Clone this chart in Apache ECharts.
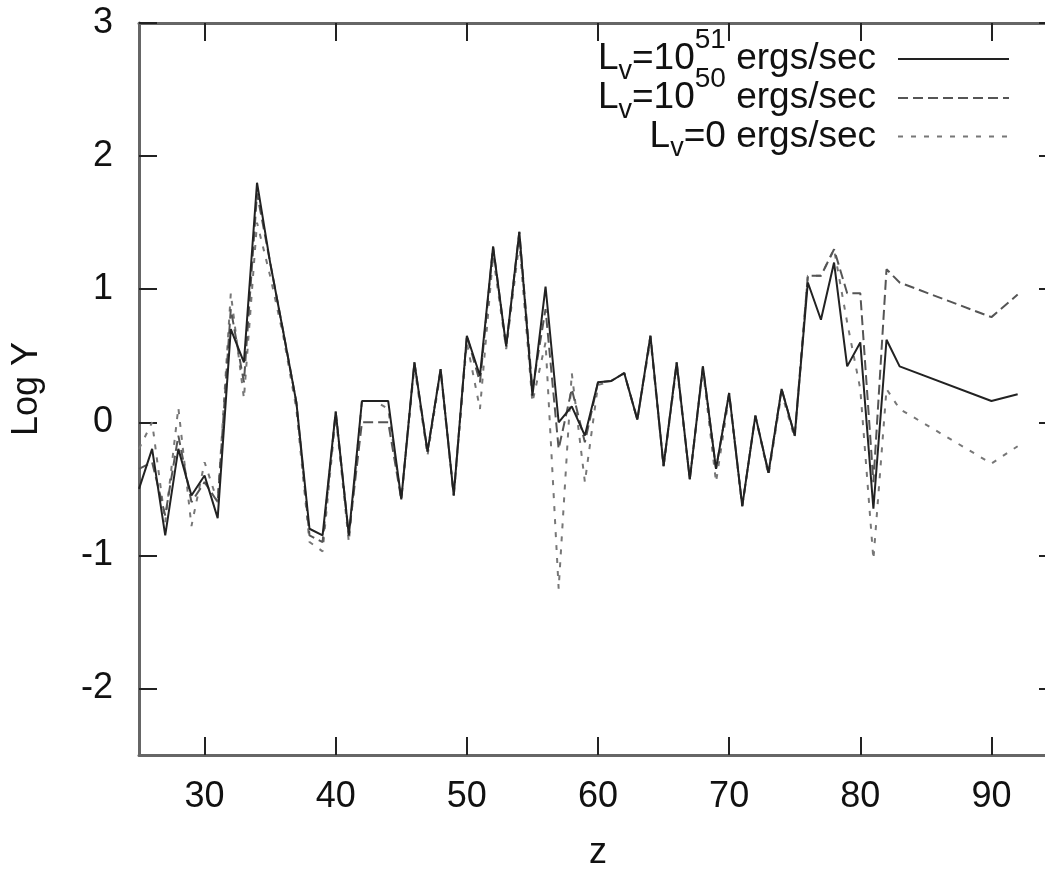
<!DOCTYPE html>
<html>
<head>
<meta charset="utf-8">
<script src="https://cdn.jsdelivr.net/npm/echarts@6/dist/echarts.min.js"></script>
<style>html,body{margin:0;padding:0;background:#fff}#c{width:1045px;height:869px}</style>
</head>
<body>
<div id="c"></div>
<script>
// z values (x axis)
const zValues = [25,26,27,28,29,30,31,32,33,34,35,36,37,38,39,40,41,42,43,44,45,46,47,48,49,50,51,52,53,54,55,56,57,58,59,60,61,62,63,64,65,66,67,68,69,70,71,72,73,74,75,76,77,78,79,80,81,82,83,90,92];
// Log Y, L_v = 10^51 ergs/sec (solid)
const logY51 = [-0.5,-0.2,-0.85,-0.2,-0.55,-0.4,-0.72,0.7,0.45,1.8,1.2,0.68,0.15,-0.8,-0.85,0.08,-0.85,0.16,0.16,0.16,-0.58,0.45,-0.22,0.4,-0.55,0.65,0.35,1.32,0.57,1.43,0.2,1.02,0.0,0.12,-0.1,0.3,0.31,0.37,0.02,0.65,-0.33,0.45,-0.43,0.42,-0.35,0.22,-0.63,0.05,-0.38,0.25,-0.1,1.05,0.77,1.2,0.42,0.6,-0.65,0.62,0.42,0.16,0.21];
// Log Y, L_v = 10^50 ergs/sec (dashed)
const logY50 = [-0.35,-0.3,-0.7,-0.1,-0.6,-0.45,-0.6,0.85,0.3,1.72,1.2,0.68,0.15,-0.85,-0.9,0.08,-0.85,0.0,0.0,0.0,-0.58,0.45,-0.22,0.4,-0.55,0.65,0.3,1.32,0.57,1.43,0.25,0.85,-0.2,0.25,-0.15,0.3,0.31,0.37,0.02,0.65,-0.33,0.45,-0.43,0.42,-0.35,0.22,-0.63,0.05,-0.38,0.25,-0.1,1.1,1.1,1.3,0.97,0.97,-0.45,1.15,1.05,0.79,0.96];
// Log Y, L_v = 0 ergs/sec (dotted)
const logY0 = [-0.2,0.0,-0.75,0.11,-0.78,-0.3,-0.6,0.97,0.18,1.5,1.1,0.65,0.1,-0.9,-0.97,0.05,-0.9,0.16,0.16,0.1,-0.58,0.42,-0.25,0.38,-0.55,0.6,0.1,1.25,0.55,1.35,0.15,0.6,-1.25,0.37,-0.45,0.28,0.31,0.37,0.02,0.62,-0.33,0.42,-0.43,0.4,-0.45,0.2,-0.63,0.05,-0.4,0.22,-0.12,1.1,1.1,1.3,0.75,0.25,-1.03,0.25,0.1,-0.31,-0.18];

const xTicks = [30,40,50,60,70,80,90];
const yTicks = [-2,-1,0,1,2,3];
const legendLabels = {
  'L51': '{m|L}{sub|v}{m|=10}{sup|51}{m| ergs/sec}{gap| }',
  'L50': '{m|L}{sub|v}{m|=10}{sup|50}{m| ergs/sec}{gap| }',
  'L0':  '{m|L}{sub|v}{m|=0 ergs/sec}{gap| }'
};

const FONT = "'Liberation Sans', Arial, Helvetica, sans-serif";
const axisLineStyle = {color:'#666', width:3};
const tickStyle = {color:'#222', width:2};

function pair(xs, ys){ return xs.map((x,i)=>[x, ys[i]]); }

const rich = {
  m:{fontSize:37, fontFamily:FONT, color:'#111'},
  sup:{fontSize:28, fontFamily:FONT, color:'#111', padding:[0,0,38,0]},
  sub:{fontSize:27, fontFamily:FONT, color:'#111', padding:[25,0,0,0]},
  gap:{width:17, fontSize:10}
};
function mkLegend(name, top){
  return {
    data:[name], right:35, top:top, orient:'horizontal', align:'right', padding:0,
    itemWidth:111, itemHeight:14, selectedMode:false,
    itemStyle:{opacity:0},
    formatter:n=>legendLabels[n],
    textStyle:{rich:rich, fontFamily:FONT}
  };
}

const chart = echarts.init(document.getElementById('c'), null, {renderer:'canvas'});
chart.setOption({
  animation:false,
  backgroundColor:'#fff',
  grid:{left:139, top:23, width:918, height:732, containLabel:false, outerBoundsMode:'none'},
  legend:[mkLegend('L51',26), mkLegend('L50',65), mkLegend('L0',118)],
  xAxis:[
    {type:'value', position:'bottom', min:25, max:95,
     axisLine:{show:true, onZero:false, lineStyle:axisLineStyle},
     axisTick:{show:true, inside:true, length:18, customValues:xTicks, lineStyle:tickStyle},
     axisLabel:{show:true, customValues:xTicks, fontSize:36, fontFamily:FONT, color:'#111', margin:24},
     splitLine:{show:false},
     name:'z', nameLocation:'middle', nameGap:80,
     nameTextStyle:{fontSize:36, fontFamily:FONT, color:'#111'}},
    {type:'value', position:'top', min:25, max:95,
     axisLine:{show:true, onZero:false, lineStyle:axisLineStyle},
     axisTick:{show:true, inside:true, length:18, customValues:xTicks, lineStyle:tickStyle},
     axisLabel:{show:false}, splitLine:{show:false}}
  ],
  yAxis:[
    {type:'value', position:'left', min:-2.5, max:3,
     axisLine:{show:true, onZero:false, lineStyle:axisLineStyle},
     axisTick:{show:true, inside:true, length:18, customValues:yTicks, lineStyle:tickStyle},
     axisLabel:{show:true, customValues:yTicks, fontSize:36, fontFamily:FONT, color:'#111', margin:26,
                formatter:v=>String(v)},
     splitLine:{show:false},
     name:'Log Y', nameLocation:'middle', nameGap:94, nameRotate:90,
     nameTextStyle:{fontSize:36, fontFamily:FONT, color:'#111'}},
    {type:'value', position:'right', min:-2.5, max:3,
     axisLine:{show:true, onZero:false, lineStyle:axisLineStyle},
     axisTick:{show:true, inside:true, length:18, customValues:yTicks, lineStyle:tickStyle},
     axisLabel:{show:false}, splitLine:{show:false}}
  ],
  series:[
    {name:'L0', type:'line', data:pair(zValues, logY0), symbol:'none', color:'#777',
     lineStyle:{color:'#777', width:2, type:[5,8]}, z:2},
    {name:'L50', type:'line', data:pair(zValues, logY50), symbol:'none', color:'#555',
     lineStyle:{color:'#555', width:2, type:[10,5]}, z:3},
    {name:'L51', type:'line', data:pair(zValues, logY51), symbol:'none', color:'#222',
     lineStyle:{color:'#222', width:2, type:'solid'}, z:4}
  ]
});
</script>
</body>
</html>
